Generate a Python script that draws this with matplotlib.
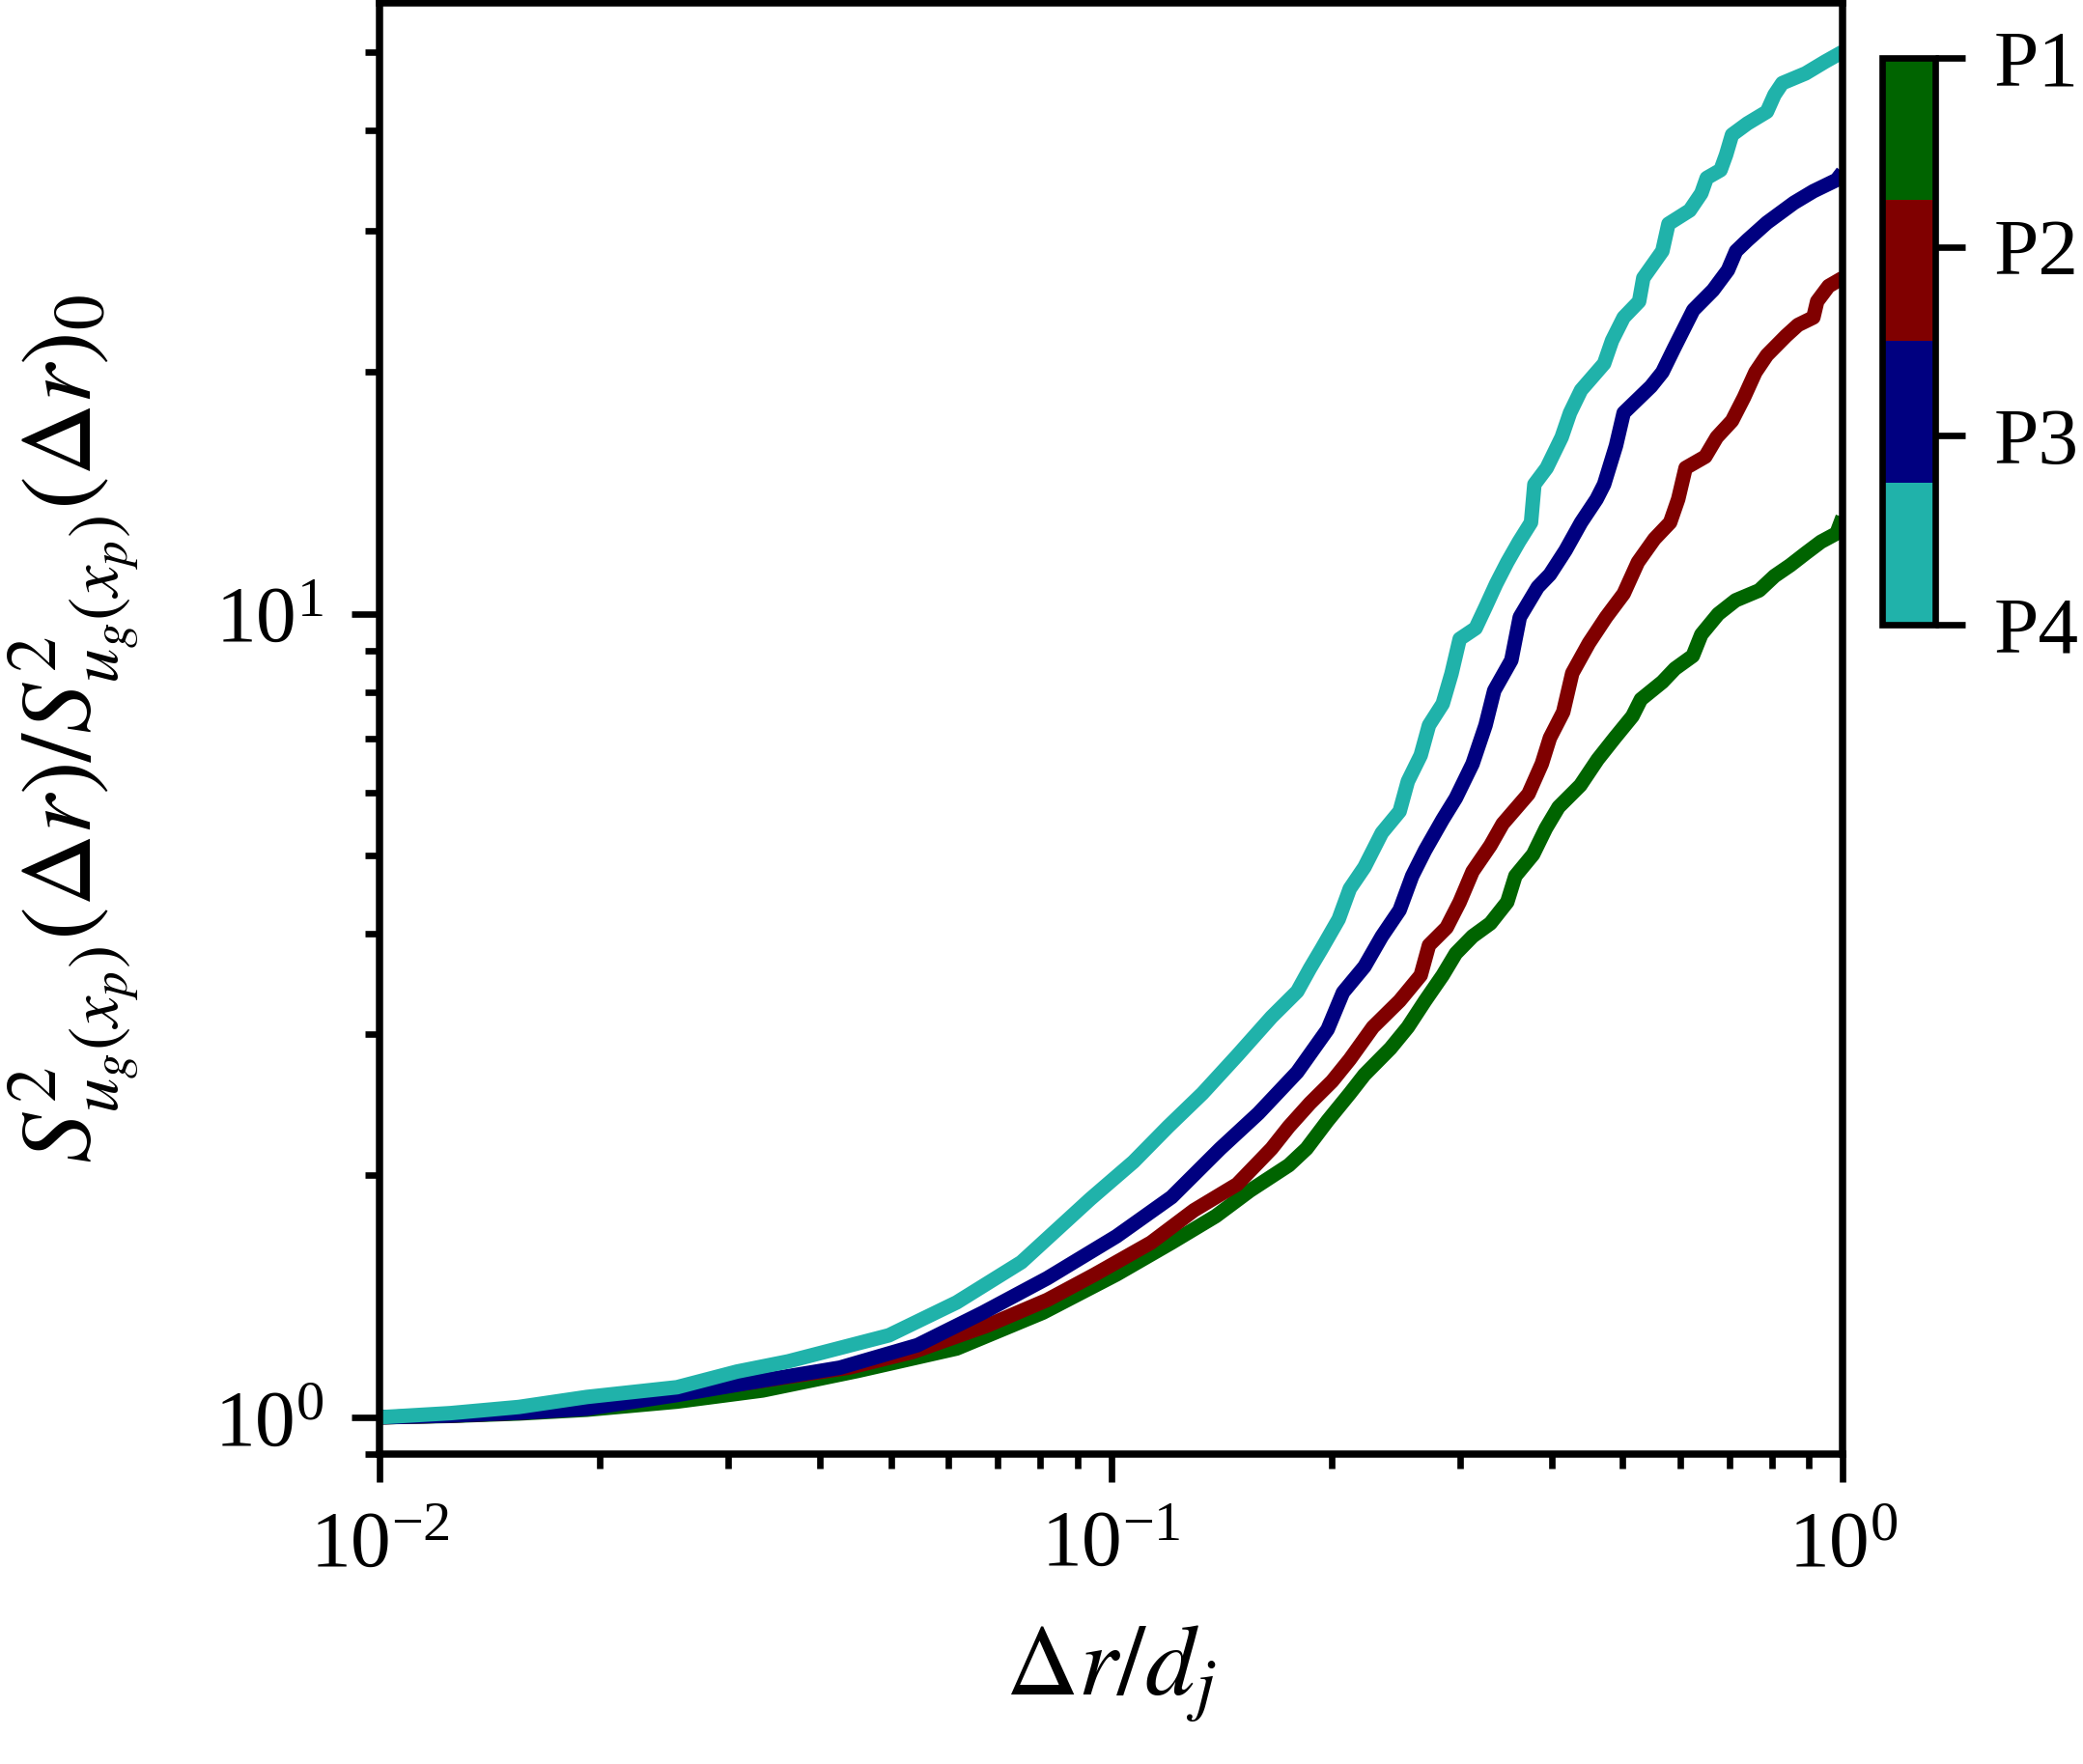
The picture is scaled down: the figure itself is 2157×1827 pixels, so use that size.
import matplotlib
matplotlib.use("Agg")
import matplotlib.pyplot as plt
from matplotlib.colors import ListedColormap, Normalize
from matplotlib.cm import ScalarMappable

plt.rcParams['font.family'] = ['Liberation Serif', 'DejaVu Serif']
plt.rcParams['mathtext.fontset'] = 'stix'

# values
x_p1 = [0.01, 0.0125, 0.0155, 0.0192, 0.0255, 0.0334, 0.045, 0.0615, 0.0807, 0.1017,
        0.121, 0.139, 0.1548, 0.175, 0.185, 0.1977, 0.212, 0.222, 0.241, 0.2545,
        0.2687, 0.284, 0.296, 0.312, 0.330, 0.348, 0.357, 0.3775, 0.393, 0.409,
        0.438, 0.4625, 0.488, 0.516, 0.530, 0.567, 0.590, 0.624, 0.641, 0.676,
        0.714, 0.769, 0.807, 0.848, 0.890, 0.934, 0.981, 1.0]
y_p1 = [1.0, 1.004, 1.011, 1.022, 1.046, 1.08, 1.142, 1.218, 1.35, 1.506,
        1.65, 1.78, 1.915, 2.06, 2.16, 2.34, 2.53, 2.67, 2.88, 3.06,
        3.30, 3.55, 3.78, 3.97, 4.12, 4.38, 4.72, 5.02, 5.41, 5.75,
        6.12, 6.59, 7.01, 7.46, 7.83, 8.23, 8.55, 8.87, 9.43, 10.0,
        10.4, 10.7, 11.15, 11.5, 11.9, 12.3, 12.6, 13.2]

x_p2 = [0.01, 0.0125, 0.0155, 0.0192, 0.0255, 0.0357, 0.0438, 0.0537, 0.0676, 0.0818,
        0.095, 0.1134, 0.1298, 0.1487, 0.1657, 0.175, 0.187, 0.2005, 0.212, 0.228,
        0.248, 0.265, 0.272, 0.2875, 0.2996, 0.312, 0.330, 0.343, 0.372, 0.388,
        0.398, 0.415, 0.427, 0.450, 0.475, 0.502, 0.525, 0.553, 0.581, 0.596,
        0.610, 0.649, 0.673, 0.706, 0.733, 0.760, 0.788, 0.837, 0.869, 0.912,
        0.923, 0.957, 1.0]
y_p2 = [1.0, 1.005, 1.013, 1.027, 1.07, 1.121, 1.153, 1.207, 1.30, 1.40,
        1.506, 1.65, 1.81, 1.95, 2.16, 2.30, 2.46, 2.62, 2.79, 3.06,
        3.30, 3.55, 3.87, 4.07, 4.38, 4.78, 5.15, 5.48, 5.97, 6.51,
        7.01, 7.55, 8.44, 9.20, 9.91, 10.6, 11.6, 12.4, 13.0, 13.9,
        15.2, 15.7, 16.6, 17.4, 18.6, 20.0, 21.0, 22.2, 22.9, 23.4,
        24.5, 25.6, 26.2]

x_p3 = [0.01, 0.0125, 0.0155, 0.0192, 0.0255, 0.0312, 0.0426, 0.0544, 0.0668, 0.0818,
        0.1017, 0.121, 0.141, 0.159, 0.1797, 0.1977, 0.2075, 0.222, 0.2345, 0.248,
        0.258, 0.2687, 0.284, 0.296, 0.312, 0.325, 0.334, 0.3525, 0.362, 0.383,
        0.398, 0.418, 0.439, 0.461, 0.472, 0.490, 0.502, 0.547, 0.567, 0.588,
        0.603, 0.625, 0.665, 0.697, 0.715, 0.741, 0.788, 0.858, 0.912, 0.981, 1.0]
y_p3 = [1.0, 1.005, 1.013, 1.025, 1.066, 1.10, 1.153, 1.23, 1.35, 1.49,
        1.68, 1.88, 2.16, 2.39, 2.69, 3.04, 3.38, 3.64, 3.97, 4.28,
        4.72, 5.08, 5.55, 5.90, 6.51, 7.27, 8.03, 8.76, 9.91, 10.8,
        11.2, 12.0, 13.0, 13.9, 14.5, 16.2, 17.8, 19.2, 20.0, 21.4,
        22.4, 23.9, 25.3, 26.8, 28.3, 29.2, 30.7, 32.5, 33.6, 34.7, 35.5]

x_p4 = [0.01, 0.0125, 0.0155, 0.0192, 0.0255, 0.0308, 0.0362, 0.0497, 0.0615, 0.0754,
        0.0937, 0.1073, 0.1196, 0.1333, 0.1487, 0.1657, 0.1797, 0.187, 0.194, 0.2047,
        0.212, 0.222, 0.2345, 0.248, 0.2545, 0.265, 0.272, 0.284, 0.292, 0.2996,
        0.315, 0.325, 0.336, 0.348, 0.361, 0.375, 0.379, 0.394, 0.413, 0.424,
        0.439, 0.472, 0.484, 0.502, 0.527, 0.534, 0.567, 0.578, 0.618, 0.641,
        0.652, 0.681, 0.693, 0.706, 0.741, 0.788, 0.807, 0.827, 0.890, 0.946, 1.0]
y_p4 = [1.0, 1.012, 1.03, 1.06, 1.09, 1.14, 1.174, 1.265, 1.39, 1.56,
        1.87, 2.08, 2.30, 2.53, 2.82, 3.15, 3.39, 3.62, 3.83, 4.17,
        4.55, 4.84, 5.34, 5.68, 6.19, 6.67, 7.27, 7.73, 8.43, 9.31,
        9.6, 10.2, 10.9, 11.6, 12.3, 13.0, 14.5, 15.2, 16.6, 17.8,
        19.0, 20.5, 21.9, 23.4, 24.5, 26.2, 28.3, 30.6, 31.8, 33.4,
        34.9, 35.7, 37.3, 39.5, 40.8, 42.2, 44.3, 45.8, 47.1, 48.7, 50.1]

labels = ["P1", "P2", "P3", "P4"]
colors = ["#006400", "#800000", "#000080", "#20B2AA"]

fig = plt.figure(figsize=(7.19, 6.09), dpi=300)
ax = fig.add_axes([0.1822, 0.1757, 0.7024, 0.8225])

curves = [(x_p1, y_p1), (x_p2, y_p2), (x_p3, y_p3), (x_p4, y_p4)]
for (xs, ys), c in zip(curves, colors):
    ax.plot(xs, ys, color=c, lw=3.6, solid_capstyle='butt')

ax.set_xscale('log')
ax.set_yscale('log')
ax.set_xlim(0.01, 1)
ax.set_ylim(0.9, 57.6)

for s in ax.spines.values():
    s.set_linewidth(1.8)
ax.tick_params(which='major', direction='out', length=7, width=1.6, labelsize=20, pad=7)
ax.tick_params(which='minor', direction='out', length=3.5, width=1.6)

ax.set_xlabel(r'$\Delta r/d_j$', fontsize=25, labelpad=10)
ax.set_ylabel(r'$S^2_{u_g(x_p)}(\Delta r)/S^2_{u_g(x_p)}(\Delta r)_0$', fontsize=25, labelpad=18)

# discrete colour bar for the four positions
cax = fig.add_axes([0.9036, 0.6459, 0.0255, 0.3213])
sm = ScalarMappable(norm=Normalize(1, 4), cmap=ListedColormap(colors))
cb = fig.colorbar(sm, cax=cax, ticks=[1, 2, 3, 4])
cb.ax.set_yticklabels(labels)
cb.ax.invert_yaxis()
cb.outline.set_linewidth(1.6)
cb.ax.tick_params(length=7.5, width=1.6, labelsize=20, pad=7)

fig.savefig("out.png", dpi=300)
